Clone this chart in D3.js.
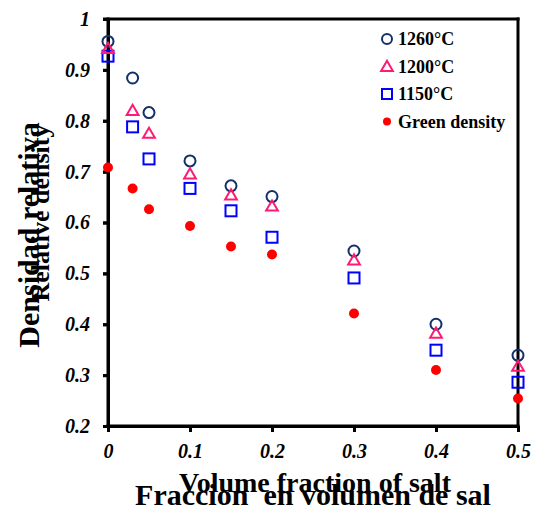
<!DOCTYPE html>
<html>
<head>
<meta charset="utf-8">
<script src="https://cdn.jsdelivr.net/npm/d3@7"></script>
<style>
  html, body { margin: 0; padding: 0; background: #fff; }
  svg { display: block; }
  text { font-family: "Liberation Serif", "Times New Roman", serif; }
</style>
</head>
<body>
<svg id="chart" width="535" height="508" xmlns="http://www.w3.org/2000/svg"></svg>
<script>
// ---- data ----
const saltFraction = [0, 0.03, 0.05, 0.1, 0.15, 0.2, 0.3, 0.4, 0.5];
const density1260 = [0.956, 0.884, 0.816, 0.721, 0.672, 0.651, 0.544, 0.400, 0.339];
const density1200 = [0.942, 0.820, 0.775, 0.695, 0.654, 0.632, 0.526, 0.382, 0.317];
const density1150 = [0.927, 0.788, 0.725, 0.667, 0.623, 0.571, 0.491, 0.349, 0.286];
const greenDensity = [0.708, 0.667, 0.626, 0.593, 0.553, 0.537, 0.421, 0.310, 0.254];
const xTicks = [0, 0.1, 0.2, 0.3, 0.4, 0.5];
const xTickLabels = ["0", "0.1", "0.2", "0.3", "0.4", "0.5"];
const yTicks = [0.2, 0.3, 0.4, 0.5, 0.6, 0.7, 0.8, 0.9, 1];
const yTickLabels = ["0.2", "0.3", "0.4", "0.5", "0.6", "0.7", "0.8", "0.9", "1"];
const seriesNames = ["1260°C", "1200°C", "1150°C", "Green density"];

const svg = d3.select("#chart");
const L = 108, R = 518, T = 19, B = 426;
const x = d3.scaleLinear().domain([0, 0.5]).range([L, R]);
const y = d3.scaleLinear().domain([0.2, 1]).range([B, T]);

// axes (labels + ticks from d3 axis)
const yAxis = d3.axisLeft(y).tickValues(yTicks).tickSize(5).tickSizeOuter(0).tickPadding(13)
  .tickFormat((d, i) => yTickLabels[i]);
const xAxis = d3.axisBottom(x).tickValues(xTicks).tickSize(6).tickSizeOuter(0).tickPadding(12)
  .tickFormat((d, i) => xTickLabels[i]);

const gy = svg.append("g").attr("transform", `translate(${L},0)`).call(yAxis);
const gx = svg.append("g").attr("transform", `translate(0,${B})`).call(xAxis);
[gy, gx].forEach(g => {
  g.attr("font-family", '"Liberation Serif", serif').attr("font-size", 20);
  g.select(".domain").attr("stroke", "black").attr("stroke-width", 3);
  g.selectAll(".tick line").attr("stroke", "black").attr("stroke-width", 3);
  g.selectAll(".tick text").attr("fill", "#000")
    .style("font-family", '"Liberation Serif", serif')
    .style("font-size", "20px").style("font-weight", "bold").style("font-style", "italic");
});
// solid tick marks (filled rects at the scale positions)
gy.selectAll(".tick").append("rect").attr("x", -5).attr("y", -1.5).attr("width", 5).attr("height", 3).attr("fill", "black");
gx.selectAll(".tick").append("rect").attr("x", -1.5).attr("y", 0).attr("width", 3).attr("height", 6).attr("fill", "black");

// frame: thick black box (filled bars)
const frame = svg.append("g").attr("fill", "black");
frame.append("rect").attr("x", L - 1.5).attr("y", T - 1.5).attr("width", 3).attr("height", B - T + 3);
frame.append("rect").attr("x", R - 1.5).attr("y", T - 1.5).attr("width", 3).attr("height", B - T + 3);
frame.append("rect").attr("x", L - 5).attr("y", T - 1.5).attr("width", R - L + 6.5).attr("height", 3);
frame.append("rect").attr("x", L - 1.5).attr("y", B - 1.5).attr("width", R - L + 3).attr("height", 3);

// markers
const g = svg.append("g");
const circleColor = "#12306b", triColor = "#ff1a75", sqColor = "#0000ff", dotColor = "#ff0000";
const tri = d3.symbol().type(d3.symbolTriangle).size(60);

function drawCircle(sel, cx, cy, r) {
  sel.append("circle").attr("cx", cx).attr("cy", cy).attr("r", r)
    .attr("fill", "none").attr("stroke", circleColor).attr("stroke-width", 2);
}
function drawTri(sel, cx, cy) {
  sel.append("path").attr("d", tri()).attr("transform", `translate(${cx},${cy + 1})`)
    .attr("fill", "none").attr("stroke", triColor).attr("stroke-width", 2);
}
function drawSq(sel, cx, cy, s) {
  sel.append("rect").attr("x", cx - s / 2).attr("y", cy - s / 2).attr("width", s).attr("height", s)
    .attr("fill", "none").attr("stroke", sqColor).attr("stroke-width", 2);
}
function drawDot(sel, cx, cy, r) {
  sel.append("circle").attr("cx", cx).attr("cy", cy).attr("r", r).attr("fill", dotColor);
}

saltFraction.forEach((f, i) => drawCircle(g, x(f), y(density1260[i]), 5.5));
saltFraction.forEach((f, i) => drawSq(g, x(f), y(density1150[i]), 11));
saltFraction.forEach((f, i) => drawTri(g, x(f), y(density1200[i])));
saltFraction.forEach((f, i) => drawDot(g, x(f), y(greenDensity[i]), 5));

// legend
const lg = svg.append("g");
const lx = 387, ly0 = 39, ldy = 27.5;
drawCircle(lg, lx, ly0, 5);
drawTri(lg, lx, ly0 + ldy);
drawSq(lg, lx, ly0 + 2 * ldy, 10);
drawDot(lg, lx, ly0 + 3 * ldy, 4);
seriesNames.forEach((n, i) => {
  lg.append("text").attr("x", lx + 11).attr("y", ly0 + i * ldy + 6)
    .style("font-size", "18px").style("font-weight", "bold").attr("fill", "#000").text(n);
});

// axis titles
svg.append("text").attr("x", 315).attr("y", 492).attr("text-anchor", "middle")
  .style("font-size", "28px").style("font-weight", "bold").text("Volume fraction of salt");
svg.append("text").attr("x", 313).attr("y", 505).attr("text-anchor", "middle")
  .style("font-size", "30px").style("font-weight", "bold").style("white-space", "pre")
  .text("Fraccion  en volumen de sal");

svg.append("text").attr("transform", "translate(39,235) rotate(-90)").attr("text-anchor", "middle")
  .style("font-size", "30px").style("font-weight", "bold").text("Densidad relativa");
svg.append("text").attr("transform", "translate(49,213) rotate(-90)").attr("text-anchor", "middle")
  .style("font-size", "26px").style("font-weight", "bold").text("Relative density");
</script>
</body>
</html>
